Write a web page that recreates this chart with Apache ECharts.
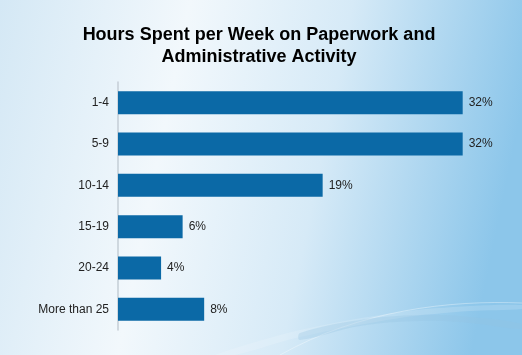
<!DOCTYPE html>
<html><head><meta charset="utf-8">
<script src="https://cdn.jsdelivr.net/npm/echarts@6/dist/echarts.min.js"></script>
<style>html,body{margin:0;padding:0;}#c{width:522px;height:355px;}</style>
</head><body><div id="c"></div>
<script>
const categories = ['1-4','5-9','10-14','15-19','20-24','More than 25'];
const values = [32, 32, 19, 6, 4, 8];
const titleText = 'Hours Spent per Week on Paperwork and\nAdministrative Activity';

const labelFont = "'Liberation Sans', Arial, sans-serif";
const chart = echarts.init(document.getElementById('c'));
chart.setOption({
  backgroundColor: {
    type: 'linear', x: 0, y: 0, x2: 1, y2: 0.3,
    colorStops: [
      {offset: 0, color: '#d4e8f5'},
      {offset: 0.35, color: '#f2f8fc'},
      {offset: 0.65, color: '#d6eaf7'},
      {offset: 1, color: '#8cc6ea'}
    ]
  },
  animation: false,
  title: {
    text: titleText, left: 254, top: 19, textAlign: 'center',
    textStyle: {fontFamily: 'Liberation Sans', fontWeight: 'bold', fontSize: 18, color: '#000', lineHeight: 22}
  },
  graphic: [
    {type: 'polygon', silent: true, z: -1,
     shape: {points: [[215,355],[300,330],[400,312],[470,306],[522,305],[522,309],[470,311],[400,318],[300,337],[235,355]], smooth: 0.3},
     style: {fill: 'rgba(255,255,255,0.15)'}},
    {type: 'bezierCurve', silent: true, z: -1,
     shape: {x1: 280, y1: 355, cpx1: 360, cpy1: 310, cpx2: 450, cpy2: 300, x2: 522, y2: 303},
     style: {stroke: 'rgba(255,255,255,0.35)', lineWidth: 1, fill: null}},
    {type: 'polygon', silent: true, z: -1,
     shape: {points: [[300,333],[360,320],[420,315],[470,317],[522,324],[522,329],[470,323],[420,321],[360,326],[300,340]], smooth: 0.4},
     style: {fill: 'rgba(150,195,225,0.3)'}}
  ],
  grid: {left: 118, top: 82, width: 377, height: 248, containLabel: false},
  xAxis: {type: 'value', min: 0, max: 35, show: false},
  yAxis: {
    type: 'category', data: categories, inverse: true,
    axisLine: {show: true, lineStyle: {color: '#c5ced6', width: 1.5}},
    axisTick: {show: false},
    axisLabel: {margin: 9, color: '#222', fontSize: 12, fontFamily: labelFont}
  },
  series: [{
    type: 'bar', data: values, barWidth: 23,
    itemStyle: {color: '#0b69a6'},
    label: {show: true, position: 'right', distance: 6, formatter: '{c}%', color: '#222', fontSize: 12, fontFamily: labelFont}
  }]
});
</script></body></html>
